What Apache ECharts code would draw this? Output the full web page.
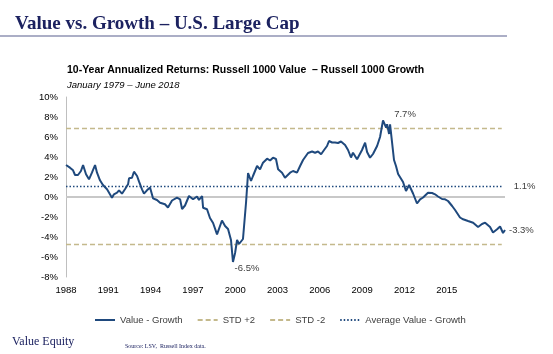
<!DOCTYPE html>
<html>
<head>
<meta charset="utf-8">
<script src="https://cdn.jsdelivr.net/npm/echarts@6/dist/echarts.min.js"></script>
<style>
    html, body { margin: 0; padding: 0; background: #fff; }
    #main { width: 553px; height: 354px; }
</style>
</head>
<body>
<div id="main"></div>
<script>
// 数据: 10年年化收益差 (Value - Growth), 横轴为图上读出的年份位置
var years = [
    1988.00, 1988.28, 1988.50, 1988.64, 1988.85, 1989.06, 1989.21, 1989.42, 1989.63, 1989.84,
    1990.06, 1990.20, 1990.41, 1990.62, 1990.91, 1991.05, 1991.26, 1991.40, 1991.62, 1991.76,
    1991.97, 1992.18, 1992.40, 1992.47, 1992.68, 1992.82, 1993.04, 1993.18, 1993.39, 1993.53,
    1993.74, 1993.96, 1994.17, 1994.45, 1994.67, 1995.02, 1995.23, 1995.52, 1995.87, 1996.09,
    1996.23, 1996.44, 1996.72, 1997.01, 1997.29, 1997.43, 1997.65, 1997.72, 1998.00, 1998.21,
    1998.43, 1998.71, 1998.85, 1999.06, 1999.28, 1999.49, 1999.70, 1999.84, 1999.99, 2000.13,
    2000.27, 2000.41, 2000.55, 2000.77, 2000.91, 2001.12, 2001.26, 2001.55, 2001.76, 2001.97,
    2002.26, 2002.47, 2002.68, 2002.89, 2003.04, 2003.32, 2003.53, 2003.67, 2003.89, 2004.10,
    2004.38, 2004.60, 2004.81, 2005.16, 2005.45, 2005.66, 2005.87, 2006.09, 2006.30, 2006.51,
    2006.65, 2006.87, 2007.08, 2007.29, 2007.50, 2007.79, 2008.00, 2008.21, 2008.35, 2008.64,
    2008.99, 2009.21, 2009.35, 2009.56, 2009.77, 2010.06, 2010.27, 2010.48, 2010.70, 2010.77,
    2010.91, 2010.98, 2011.12, 2011.26, 2011.40, 2011.55, 2011.69, 2011.90, 2012.11, 2012.33,
    2012.47, 2012.61, 2012.89, 2013.11, 2013.32, 2013.46, 2013.67, 2013.96, 2014.17, 2014.38,
    2014.67, 2014.88, 2015.09, 2015.38, 2015.59, 2015.94, 2016.16, 2016.51, 2016.87, 2017.22,
    2017.50, 2017.72, 2018.07, 2018.28, 2018.57, 2018.78, 2018.99, 2019.13
];
var diffs = [
    3.2, 2.93, 2.67, 2.2, 2.2, 2.6, 3.2, 2.27, 1.77, 2.43,
    3.2, 2.43, 1.67, 1.2, 0.77, 0.6, -0.07, 0.27, 0.43, 0.67,
    0.33, 0.77, 1.27, 1.87, 1.93, 2.53, 2.1, 1.53, 0.77, 0.33,
    0.67, 0.95, -0.13, -0.3, -0.57, -0.73, -1.05, -0.35, -0.07, -0.23,
    -1.2, -0.85, 0.1, -0.23, 0.05, -0.3, 0.1, -1.07, -1.23, -2.1,
    -2.6, -3.73, -3.7, -2.35, -2.9, -3.2, -4.3, -6.5, -5.6, -4.3,
    -4.7, -4.7, -4.2, -0.5, 2.4, 1.6, 2.1, 3.1, 2.77, 3.43,
    3.83, 3.65, 3.93, 3.8, 2.77, 2.43, 1.93, 1.8, 2.43, 2.6,
    2.43, 3.1, 3.7, 4.4, 4.55, 4.43, 4.55, 4.27, 4.7, 5.1,
    5.6, 5.45, 5.45, 5.4, 5.55, 5.2, 4.7, 3.95, 4.43, 3.77,
    4.7, 5.43, 4.5, 3.93, 4.3, 5.1, 6.0, 7.67, 6.93, 7.27,
    6.3, 7.27, 7.1, 3.7, 3.1, 2.3, 2.2, 1.5, 0.6, 1.2,
    1.27, 0.35, -0.65, -0.23, -0.05, 0.1, 0.43, 0.4, 0.27, 0.05,
    -0.2, -0.23, -0.4, -0.9, -1.3, -2.05, -2.23, -2.4, -2.57, -3.0,
    -2.7, -2.57, -3.0, -3.55, -3.23, -2.95, -3.6, -3.3
];
var xTicks = [1988, 1991, 1994, 1997, 2000, 2003, 2006, 2009, 2012, 2015];
var stdPlus = 6.85;
var stdMinus = -4.75;
var avgDiff = 1.05;
var refRange = [1988, 2018.9];

var navy = '#1f497d';
var tan = '#c4b98c';
var textGray = '#404040';

var lineData = years.map(function (y, i) { return [y, diffs[i]]; });
function flat(v) { return [[refRange[0], v], [refRange[1], v]]; }

// 峰值 / 谷值
var iMax = diffs.indexOf(Math.max.apply(null, diffs));
var iMin = diffs.indexOf(Math.min.apply(null, diffs));

var myChart = echarts.init(document.getElementById('main'));

var option = {
    animation: false,
    textStyle: { fontFamily: 'Liberation Sans, Arial, sans-serif' },
    title: [
        {
            text: 'Value vs. Growth – U.S. Large Cap',
            left: 10, top: 10,
            textStyle: { fontFamily: 'Liberation Serif, serif', fontSize: 19, fontWeight: 'bold', color: '#1c2260' }
        },
        {
            text: '10-Year Annualized Returns: Russell 1000 Value  – Russell 1000 Growth',
            left: 62, top: 60,
            textStyle: { fontSize: 10.5, fontWeight: 'bold', color: '#000' }
        },
        {
            text: 'January 1979 – June 2018',
            left: 62, top: 75,
            textStyle: { fontSize: 9.5, fontStyle: 'italic', fontWeight: 'normal', color: '#000' }
        },
        {
            text: 'Value Equity',
            left: 7, top: 331,
            textStyle: { fontFamily: 'Liberation Serif, serif', fontSize: 12, fontWeight: 'normal', color: '#1c2260' }
        },
        {
            text: 'Source: LSV,  Russell Index data.',
            left: 120, top: 338,
            textStyle: { fontFamily: 'Liberation Serif, serif', fontSize: 6, fontWeight: 'normal', color: '#1c2260' }
        }
    ],
    graphic: [{
        type: 'line',
        shape: { x1: 0, y1: 36, x2: 507, y2: 36 },
        style: { stroke: '#8f93b3', lineWidth: 1.5 }
    }],
    legend: {
        left: 89, top: 310,
        itemWidth: 20, itemHeight: 9, itemGap: 14,
        itemStyle: { opacity: 0 },
        textStyle: { fontSize: 9.5, color: textGray },
        data: ['Value - Growth', 'STD +2', 'STD -2', 'Average Value - Growth']
    },
    grid: { left: 66, right: 48, top: 97, bottom: 77 },
    xAxis: {
        type: 'value',
        min: 1988, max: 2019.13,
        axisLine: { show: false },
        axisTick: { show: false },
        splitLine: { show: false },
        axisLabel: {
            customValues: xTicks, fontSize: 9.5, color: '#000', margin: 8,
            formatter: function (v) { return String(v); }
        }
    },
    yAxis: {
        type: 'value',
        min: -8, max: 10, interval: 2,
        axisLine: { show: true, lineStyle: { color: '#bfbfbf', width: 1 } },
        axisTick: { show: false },
        splitLine: { show: false },
        axisLabel: { fontSize: 9.5, color: '#000', margin: 8, formatter: function (v) { return v + '%'; } }
    },
    series: [
        {
            name: 'STD +2', type: 'line', data: flat(stdPlus), symbol: 'none', silent: true,
            lineStyle: { color: tan, width: 1.5, type: [5, 3] }, itemStyle: { color: tan }
        },
        {
            name: 'STD -2', type: 'line', data: flat(stdMinus), symbol: 'none', silent: true,
            lineStyle: { color: tan, width: 1.5, type: [5, 3] }, itemStyle: { color: tan }
        },
        {
            name: 'Average Value - Growth', type: 'line', data: flat(avgDiff), symbol: 'none', silent: true,
            lineStyle: { color: navy, width: 1.5, type: [1.5, 2] }, itemStyle: { color: navy },
            endLabel: { show: true, formatter: '1.1%', distance: 12, fontSize: 9.5, color: textGray }
        },
        {
            name: 'Value - Growth', type: 'line', data: lineData, symbol: 'none', z: 5,
            lineStyle: { color: navy, width: 2 }, itemStyle: { color: navy },
            endLabel: { show: true, formatter: '-3.3%', distance: 4, fontSize: 9.5, color: textGray },
            markLine: {
                silent: true, symbol: 'none', label: { show: false },
                lineStyle: { color: '#c8c8c8', width: 2, type: 'solid' },
                data: [{ yAxis: 0 }]
            },
            markPoint: {
                symbol: 'circle', symbolSize: 0, silent: true,
                label: { show: true, fontSize: 9.5, color: textGray },
                data: [
                    { coord: lineData[iMax], label: { formatter: '7.7%', offset: [22, -6] } },
                    { coord: lineData[iMin], label: { formatter: '-6.5%', offset: [14, 6] } }
                ]
            }
        }
    ]
};

myChart.setOption(option);
</script>
</body>
</html>
